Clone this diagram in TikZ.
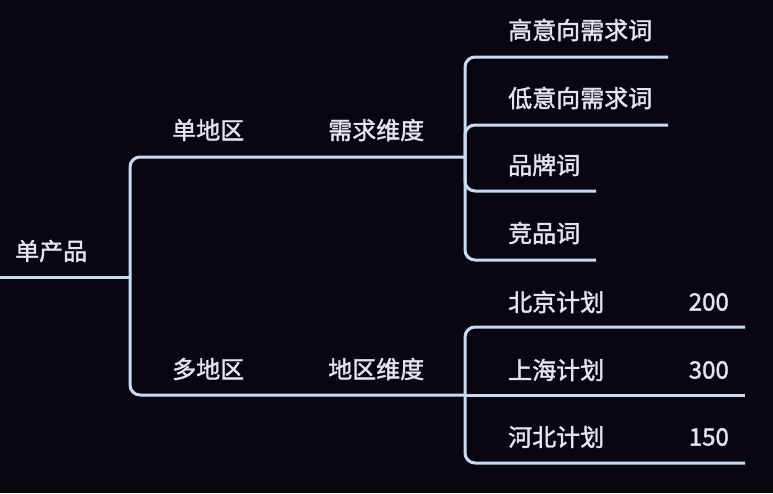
\documentclass[tikz,border=0pt]{standalone}
\usepackage{fontspec}
\setmainfont{Noto Sans CJK SC}
\definecolor{bg}{HTML}{0A0610}
\definecolor{ln}{HTML}{C4DCF4}
\definecolor{tx}{HTML}{E4E4EA}
\begin{document}
\begin{tikzpicture}[x=1pt,y=-1pt,
  lbl/.style={anchor=west,inner sep=0pt,text=tx,font=\fontsize{24}{26}\selectfont\addfontfeature{FakeBold=1.6}},
  num/.style={anchor=east,inner sep=0pt,text=tx,font=\fontsize{24}{26}\selectfont\addfontfeature{FakeBold=1.6}},
  conn/.style={draw=ln,line width=3pt,rounded corners=10pt}]
\fill[bg] (0,0) rectangle (773,493);
\useasboundingbox (0,0) rectangle (773,493);
% texts
\node[lbl] (root) at (15,251) {单产品};
\node[lbl] (sd) at (172,130) {单地区};
\node[lbl] (xq) at (328,130) {需求维度};
\node[lbl] (dd) at (172,369) {多地区};
\node[lbl] (dq) at (328,369) {地区维度};
\node[lbl] (k1) at (508,30) {高意向需求词};
\node[lbl] (k2) at (508,98) {低意向需求词};
\node[lbl] (k3) at (508,165) {品牌词};
\node[lbl] (k4) at (508,233) {竞品词};
\node[lbl] (p1) at (508,302) {北京计划};
\node[lbl] (p2) at (508,370) {上海计划};
\node[lbl] (p3) at (508,437) {河北计划};
\node[num] (n1) at (729,302) {200};
\node[num] (n2) at (729,370) {300};
\node[num] (n3) at (729,437) {150};
% coordinates
\coordinate (r0) at (0,277);
\coordinate (j0) at (130,277);
\coordinate (j1) at (465,157);
\coordinate (j2) at (465,395);
\coordinate (e1) at (668,57);
\coordinate (e2) at (668,125);
\coordinate (e3) at (596,191);
\coordinate (e4) at (596,260);
\coordinate (f1) at (745,327);
\coordinate (f2) at (745,395);
\coordinate (f3) at (745,463);
% connectors
\draw[conn] (r0) -- (j0);
\draw[conn] (j0) |- (j1);
\draw[conn] (j0) |- (j2);
\draw[conn] (j1) |- (e1);
\draw[conn] (j1) |- (e2);
\draw[conn] (j1) |- (e3);
\draw[conn] (j1) |- (e4);
\draw[conn] (j2) |- (f1);
\draw[conn] (j2) -- (f2);
\draw[conn] (j2) |- (f3);
\end{tikzpicture}
\end{document}
